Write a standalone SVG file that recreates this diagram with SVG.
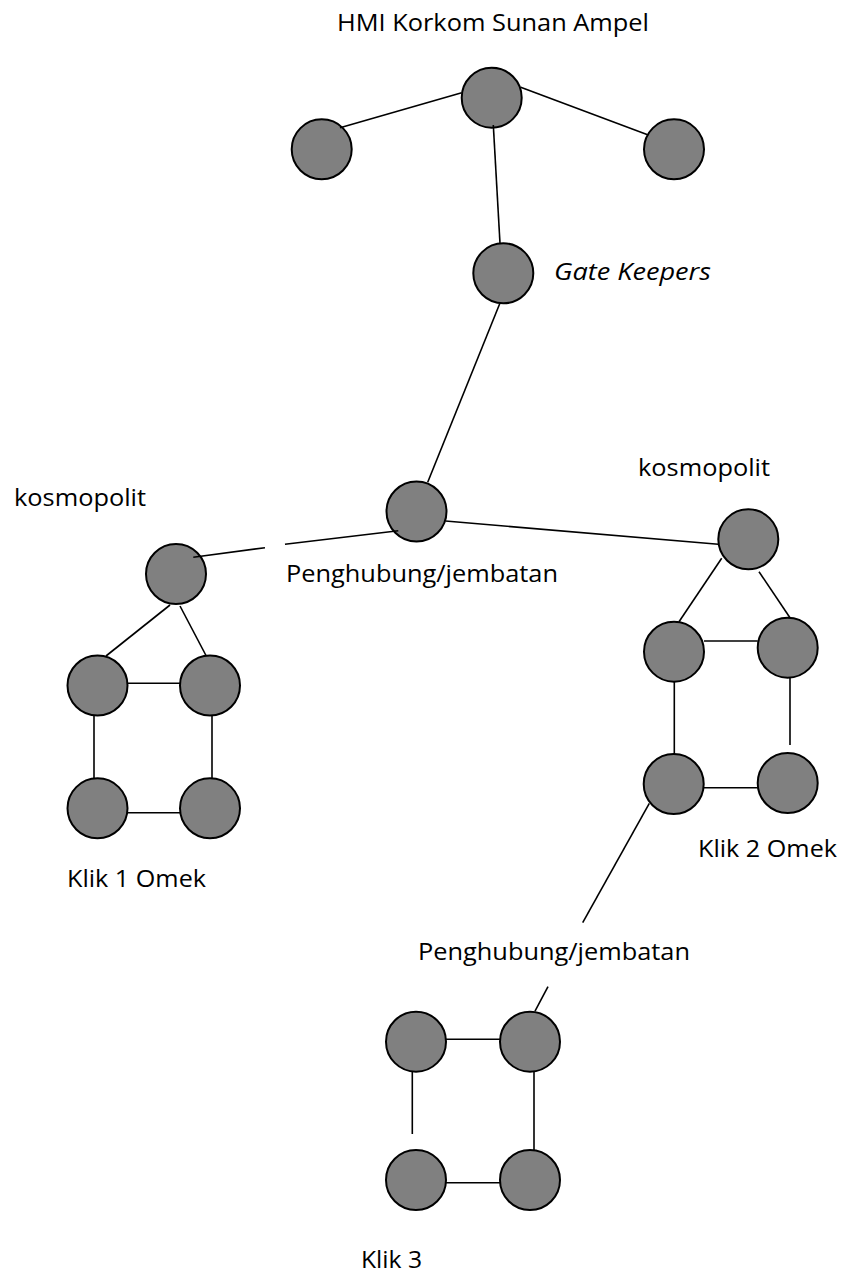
<svg xmlns="http://www.w3.org/2000/svg" width="843" height="1274" viewBox="0 0 843 1274">
<style>
.n{fill:#808080;stroke:#000;stroke-width:2}
.c line{stroke:#000;stroke-width:1.6;stroke-linecap:butt}
text{font-family:"Open Sans","Liberation Sans",sans-serif;font-size:24px;fill:#000}
.it{font-style:italic}
</style>
<rect width="843" height="1274" fill="#fff"/>
<g id="labels">
<text x="337" y="31" textLength="312" lengthAdjust="spacingAndGlyphs">HMI Korkom Sunan Ampel</text>
<text class="it" x="554" y="280" textLength="157" lengthAdjust="spacingAndGlyphs">Gate Keepers</text>
<text x="14" y="506" textLength="132" lengthAdjust="spacingAndGlyphs">kosmopolit</text>
<text x="638" y="476" textLength="132" lengthAdjust="spacingAndGlyphs">kosmopolit</text>
<text x="286" y="582" textLength="272" lengthAdjust="spacingAndGlyphs">Penghubung/jembatan</text>
<text x="418" y="960" textLength="272" lengthAdjust="spacingAndGlyphs">Penghubung/jembatan</text>
<text x="67" y="887" textLength="139" lengthAdjust="spacingAndGlyphs">Klik 1 Omek</text>
<text x="698" y="857" textLength="139" lengthAdjust="spacingAndGlyphs">Klik 2 Omek</text>
<text x="361" y="1268" textLength="61" lengthAdjust="spacingAndGlyphs">Klik 3</text>
</g>
<g id="n-top"><circle class="n" cx="491.7" cy="97.7" r="30"/></g>
<g id="n-top-left"><circle class="n" cx="321.7" cy="149.3" r="30"/></g>
<g id="n-top-right"><circle class="n" cx="674" cy="149.3" r="30"/></g>
<g id="n-gatekeeper"><circle class="n" cx="503.3" cy="273.3" r="30"/></g>
<g id="n-center"><circle class="n" cx="416.5" cy="511.5" r="30"/></g>
<g id="n-kosmo-left"><circle class="n" cx="176" cy="574" r="30"/></g>
<g id="n-k1-tl"><circle class="n" cx="97.5" cy="685.5" r="30"/></g>
<g id="n-k1-tr"><circle class="n" cx="210" cy="685.5" r="30"/></g>
<g id="n-k1-bl"><circle class="n" cx="97.5" cy="808.3" r="30"/></g>
<g id="n-k1-br"><circle class="n" cx="210" cy="808.3" r="30"/></g>
<g id="n-kosmo-right"><circle class="n" cx="748.3" cy="539.3" r="30"/></g>
<g id="n-k2-tl"><circle class="n" cx="674" cy="651.7" r="30"/></g>
<g id="n-k2-tr"><circle class="n" cx="787.7" cy="647.7" r="30"/></g>
<g id="n-k2-bl"><circle class="n" cx="673.7" cy="784" r="30"/></g>
<g id="n-k2-br"><circle class="n" cx="787.7" cy="783" r="30"/></g>
<g id="n-k3-tl"><circle class="n" cx="416" cy="1041.7" r="30"/></g>
<g id="n-k3-tr"><circle class="n" cx="530" cy="1041.7" r="30"/></g>
<g id="n-k3-bl"><circle class="n" cx="416" cy="1180" r="30"/></g>
<g id="n-k3-br"><circle class="n" cx="530" cy="1180" r="30"/></g>
<g id="connectors" class="c">
<line x1="461.7" y1="92.7" x2="340" y2="127.7"/>
<line x1="520.7" y1="87.3" x2="648.3" y2="135"/>
<line x1="493.3" y1="125" x2="500" y2="243.3"/>
<line x1="500" y1="303" x2="427.7" y2="482.3"/>
<line x1="398.3" y1="530.7" x2="285" y2="544.3"/>
<line x1="265" y1="547.7" x2="193.3" y2="557.3"/>
<line x1="445.5" y1="521" x2="718.3" y2="544.3"/>
<line x1="170" y1="605" x2="106" y2="656"/>
<line x1="180" y1="606" x2="206" y2="655.5"/>
<line x1="127.5" y1="683.3" x2="180" y2="683.3"/>
<line x1="94" y1="715.5" x2="94" y2="778.3"/>
<line x1="212" y1="715.5" x2="212" y2="778.3"/>
<line x1="127.5" y1="812.7" x2="180" y2="812.7"/>
<line x1="721.7" y1="558.3" x2="679" y2="621.7"/>
<line x1="759" y1="571.7" x2="790" y2="617.7"/>
<line x1="704" y1="641" x2="757.7" y2="641"/>
<line x1="674.3" y1="681.7" x2="674.3" y2="754"/>
<line x1="790" y1="677.7" x2="790" y2="745"/>
<line x1="703.7" y1="787.7" x2="757.7" y2="787.7"/>
<line x1="649.3" y1="803.3" x2="582.7" y2="922.7"/>
<line x1="548" y1="986.5" x2="535" y2="1011"/>
<line x1="446" y1="1039.3" x2="500" y2="1039.3"/>
<line x1="412.3" y1="1071.7" x2="412.3" y2="1134"/>
<line x1="534" y1="1071.7" x2="534" y2="1150"/>
<line x1="446" y1="1182.7" x2="500" y2="1182.7"/>
</g>
</svg>
